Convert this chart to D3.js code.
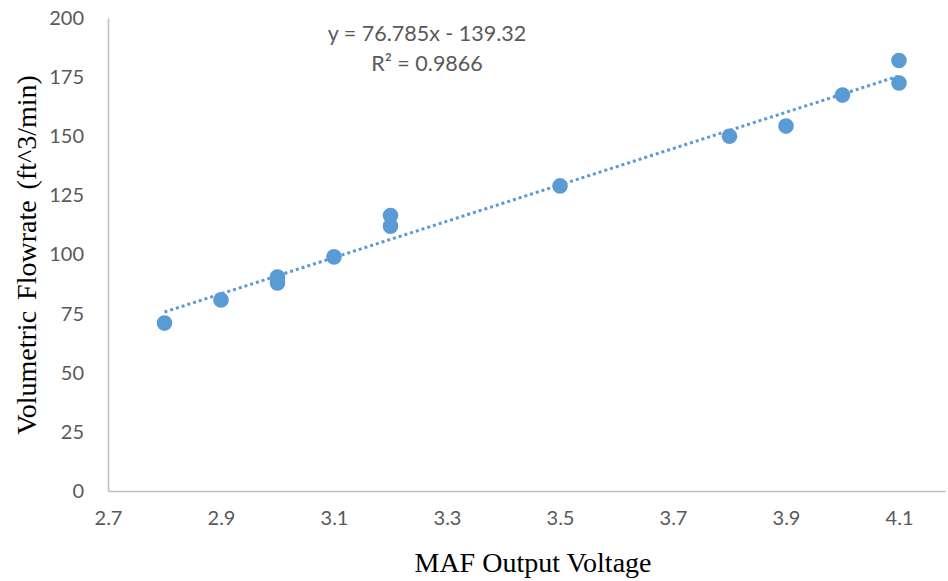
<!DOCTYPE html>
<html>
<head>
<meta charset="utf-8">
<script src="https://cdn.jsdelivr.net/npm/d3@7"></script>
<style>
  body { margin: 0; background: #fff; }
  .tick text { font-family: Lato, "Open Sans", sans-serif; fill: #595959; }
</style>
</head>
<body>
<div class="chart"></div>
<script>
// MAF voltage vs. flowrate readings
const voltage  = [2.8, 2.9, 3.0, 3.0, 3.1, 3.2, 3.2, 3.5, 3.8, 3.9, 4.0, 4.1, 4.1]
const flowrate = [71.0, 80.8, 90.5, 88.0, 99.0, 116.5, 112.0, 129.0, 150.0, 154.3, 167.4, 182.0, 172.5]

const xTicks = [2.7, 2.9, 3.1, 3.3, 3.5, 3.7, 3.9, 4.1]
const yTicks = [0, 25, 50, 75, 100, 125, 150, 175, 200]

// trendline from the linear fit shown on the chart
const slope = 76.785, intercept = -139.32
const fitLabel = ["y = 76.785x - 139.32", "R\u00b2 = 0.9866"]

const width = 948, height = 581
const margin = {top: 18, right: 3, bottom: 90, left: 108}
const blue = "#5b9bd5"

const svg = d3.select(".chart").append("svg")
    .attr("width", width)
    .attr("height", height)

const xScale = d3.scaleLinear()
    .domain([2.7, 4.1814])
    .range([margin.left, width - margin.right])

const yScale = d3.scaleLinear()
    .domain([0, 200])
    .range([height - margin.bottom, margin.top])

// y axis
const yGroup = svg.append("g")
    .attr("transform", `translate(${margin.left},0)`)
    .call(d3.axisLeft(yScale).tickValues(yTicks).tickSize(0).tickPadding(24))
yGroup.select(".domain").attr("stroke", "#bfbfbf").attr("stroke-width", 1.5)
yGroup.selectAll(".tick text").style("font-size", "20px")

// x axis
const xGroup = svg.append("g")
    .attr("transform", `translate(0,${yScale(0)})`)
    .call(d3.axisBottom(xScale).tickValues(xTicks).tickSize(0).tickPadding(20).tickFormat(d3.format(".1f")))
xGroup.select(".domain").attr("stroke", "#bfbfbf").attr("stroke-width", 1.5)
xGroup.selectAll(".tick text").style("font-size", "20px")

// trendline
const xr = d3.extent(voltage)
svg.append("line")
    .attr("x1", xScale(xr[0]))
    .attr("y1", yScale(slope * xr[0] + intercept))
    .attr("x2", xScale(xr[1]))
    .attr("y2", yScale(slope * xr[1] + intercept))
    .attr("stroke", blue)
    .attr("stroke-width", 3)
    .attr("stroke-dasharray", "3 3")

// points
svg.selectAll(".pt")
  .data(voltage)
  .join("circle")
    .attr("class", "pt")
    .attr("cx", d => xScale(d))
    .attr("cy", (d, i) => yScale(flowrate[i]))
    .attr("r", 7.8)
    .attr("fill", blue)

// fit equation
svg.append("g").selectAll("text")
  .data(fitLabel)
  .join("text")
    .attr("x", 427)
    .attr("y", (d, i) => 41 + i * 30)
    .attr("text-anchor", "middle")
    .style("font-family", "Lato, 'Open Sans', sans-serif")
    .style("font-size", "21.5px")
    .attr("fill", "#595959")
    .text(d => d)

// axis titles
svg.append("text")
    .attr("x", 533)
    .attr("y", 572)
    .attr("text-anchor", "middle")
    .style("font-family", "'Liberation Serif', serif")
    .style("font-size", "28px")
    .text("MAF  Output Voltage")

svg.append("text")
    .attr("transform", "translate(36,255) rotate(-90)")
    .attr("text-anchor", "middle")
    .style("font-family", "'Liberation Serif', serif")
    .style("font-size", "28px")
    .style("word-spacing", "4px")
    .text("Volumetric  Flowrate  (ft^3/min)")
</script>
</body>
</html>
